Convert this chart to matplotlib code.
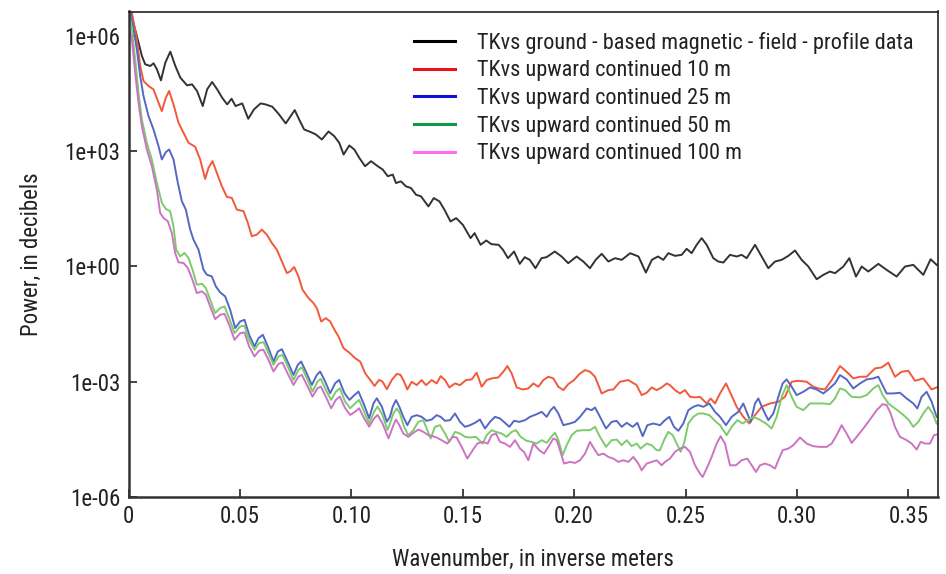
import numpy as np
import matplotlib
matplotlib.use("Agg")
import matplotlib.pyplot as plt
from matplotlib import font_manager
from matplotlib.lines import Line2D

# ---------------- data (x in inverse meters, power given as log10 exponent) -------------
black_x = [0.0, 0.00075, 0.00375, 0.0060, 0.0075, 0.00976, 0.01126, 0.01276, 0.01456, 0.01652, 0.01877,
           0.02102, 0.02327, 0.02628, 0.02853, 0.03078, 0.03333, 0.03529, 0.03754, 0.03979, 0.04204,
           0.04429, 0.04625, 0.04805, 0.05105, 0.05375, 0.05631, 0.05931, 0.06156, 0.06456, 0.06757,
           0.07057, 0.07282, 0.07462, 0.07658, 0.07883, 0.08183, 0.08408, 0.08679, 0.08979, 0.09234,
           0.09459, 0.09655, 0.0991, 0.10135, 0.1036, 0.10616, 0.10886, 0.11186, 0.11411, 0.11637,
           0.11862, 0.12004, 0.12229, 0.12455, 0.1268, 0.12905, 0.1313, 0.13461, 0.13701, 0.13956,
           0.14181, 0.14452, 0.14707, 0.15007, 0.15353, 0.15533, 0.15803, 0.16058, 0.16284, 0.16614,
           0.16809, 0.17034, 0.17305, 0.1756, 0.17785, 0.1801, 0.18265, 0.18536, 0.18761, 0.19136,
           0.19437, 0.19737, 0.20112, 0.20413, 0.20713, 0.20968, 0.21239, 0.21539, 0.21839, 0.2214,
           0.22515, 0.2289, 0.23221, 0.23491, 0.23761, 0.24005, 0.24229, 0.24528, 0.24827, 0.25052,
           0.25276, 0.25501, 0.25725, 0.2595, 0.26249, 0.26473, 0.26698, 0.26997, 0.27296, 0.27521,
           0.27745, 0.2812, 0.28418, 0.28717, 0.29017, 0.29316, 0.29615, 0.29914, 0.30214, 0.30513,
           0.30887, 0.31186, 0.31485, 0.3171, 0.32084, 0.32353, 0.32652, 0.32907, 0.33206, 0.33655,
           0.34029, 0.34477, 0.34851, 0.35225, 0.35674, 0.36003, 0.36272]
black_log10 = [6.9, 6.65, 6.0, 5.478, 5.261, 5.217, 5.287, 5.130, 4.843, 5.304, 5.591,
               5.217, 4.913, 4.713, 4.739, 4.565, 4.174, 4.609, 4.800, 4.609, 4.391,
               4.217, 4.365, 4.174, 4.243, 3.843, 4.087, 4.243, 4.217, 4.157, 3.957,
               3.722, 3.913, 4.070, 3.826, 3.565, 3.496, 3.435, 3.304, 3.513, 3.391,
               3.217, 2.913, 3.148, 3.043, 2.826, 2.609, 2.739, 2.609, 2.522, 2.348,
               2.391, 2.171, 2.214, 2.084, 2.040, 1.867, 1.823, 1.562, 1.780, 1.693,
               1.476, 1.171, 1.258, 1.084, 0.737, 0.867, 0.563, 0.676, 0.580, 0.563,
               0.432, 0.215, 0.389, 0.067, 0.241, 0.172, -0.046, 0.215, 0.241, 0.389,
               0.259, 0.085, 0.259, 0.128, -0.046, 0.172, 0.328, 0.128, 0.215, 0.172,
               0.345, 0.259, -0.159, 0.172, 0.259, 0.172, 0.346, 0.276, 0.302, 0.459,
               0.346, 0.563, 0.737, 0.563, 0.215, 0.128, 0.102, 0.302, 0.259, 0.302,
               0.215, 0.563, 0.259, -0.046, 0.128, 0.172, 0.276, 0.415, 0.172, -0.002,
               -0.332, -0.219, -0.132, -0.176, -0.002, 0.215, -0.263, -0.002, -0.132, 0.067,
               -0.089, -0.263, -0.002, 0.041, -0.219, 0.189, 0.041]

red_x = [0.0, 0.0015, 0.00374, 0.00524, 0.00673, 0.00898, 0.01122, 0.01347, 0.01496, 0.01676, 0.01825,
         0.0202, 0.02244, 0.02469, 0.02693, 0.02992, 0.03217, 0.03441, 0.03591, 0.0377, 0.03965,
         0.04189, 0.04414, 0.04638, 0.04862, 0.05162, 0.05356, 0.05536, 0.0576, 0.05984, 0.06209,
         0.06433, 0.06658, 0.06912, 0.07107, 0.07256, 0.07436, 0.0763, 0.0781, 0.08079, 0.08303,
         0.08453, 0.08648, 0.08857, 0.09051, 0.09246, 0.09426, 0.0965, 0.09904, 0.10174, 0.10398,
         0.10622, 0.10847, 0.11041, 0.11251, 0.114, 0.11595, 0.11819, 0.12044, 0.12208, 0.12335,
         0.12515, 0.1271, 0.12934, 0.13158, 0.13353, 0.13607, 0.13832, 0.14011, 0.14206, 0.144,
         0.14654, 0.14879, 0.15148, 0.15403, 0.15627, 0.15851, 0.16076, 0.163, 0.16599, 0.16824,
         0.17003, 0.17198, 0.17422, 0.17692, 0.17946, 0.1817, 0.18395, 0.18619, 0.18844, 0.19068,
         0.19293, 0.19517, 0.19741, 0.19996, 0.20235, 0.2049, 0.20714, 0.20938, 0.21237, 0.21537,
         0.21761, 0.2206, 0.22434, 0.22808, 0.23032, 0.23257, 0.23481, 0.23706, 0.2393, 0.24155,
         0.24304, 0.24528, 0.24753, 0.24977, 0.25202, 0.25426, 0.2565, 0.25949, 0.26129, 0.26324,
         0.26548, 0.26817, 0.27027, 0.27296, 0.27595, 0.27865, 0.28119, 0.28418, 0.28792, 0.29166,
         0.29466, 0.29765, 0.30064, 0.30438, 0.30737, 0.30962, 0.31261, 0.3156, 0.31934, 0.32233,
         0.32532, 0.32832, 0.33131, 0.33505, 0.33804, 0.34103, 0.34402, 0.34702, 0.35001, 0.353,
         0.35674, 0.36048, 0.36347]
red_log10 = [6.9, 6.608, 5.913, 5.218, 4.827, 4.696, 4.609, 4.262, 4.044, 4.392, 4.566,
             4.218, 3.740, 3.479, 3.219, 3.114, 2.784, 2.280, 2.567, 2.741, 2.436,
             2.089, 1.811, 1.784, 1.480, 1.437, 1.133, 0.785, 0.828, 0.959, 0.828,
             0.611, 0.437, 0.089, -0.172, -0.128, -0.015, -0.259, -0.606, -0.823, -0.954,
             -1.085, -1.432, -1.345, -1.432, -1.649, -1.823, -2.127, -2.240, -2.388, -2.475,
             -2.779, -2.953, -3.109, -2.953, -2.996, -3.196, -2.953, -2.796, -2.822, -2.957,
             -3.201, -3.001, -3.088, -2.957, -3.088, -2.957, -3.044, -2.853, -2.957, -3.149,
             -3.044, -3.088, -2.957, -2.940, -2.766, -3.131, -2.957, -2.914, -2.888, -2.740,
             -2.592, -2.783, -3.149, -3.201, -3.175, -3.044, -3.131, -2.957, -2.870, -2.914,
             -3.131, -3.218, -3.062, -2.957, -2.801, -2.697, -2.740, -2.870, -3.305, -3.218,
             -3.201, -3.001, -2.957, -3.088, -3.348, -3.288, -3.149, -3.218, -3.149, -3.044,
             -3.088, -3.218, -3.305, -3.218, -3.392, -3.409, -3.392, -3.566, -3.436, -3.566,
             -3.305, -3.044, -3.305, -3.653, -3.913, -4.087, -3.870, -3.653, -3.566, -3.522,
             -3.392, -3.001, -2.975, -3.001, -3.131, -3.175, -3.201, -2.957, -2.592, -2.740,
             -2.914, -2.870, -2.870, -2.653, -2.627, -2.505, -2.870, -2.740, -2.714, -2.975,
             -2.914, -3.201, -3.131]

blue_x = [0.0, 0.00224, 0.00374, 0.00524, 0.00673, 0.00898, 0.01122, 0.01347, 0.01496, 0.01676, 0.01825,
          0.0202, 0.02214, 0.02394, 0.02573, 0.02768, 0.02917, 0.03142, 0.03366, 0.03516, 0.0374,
          0.0392, 0.04114, 0.04339, 0.04563, 0.04788, 0.05012, 0.05206, 0.05416, 0.05655, 0.05835,
          0.06029, 0.06254, 0.06508, 0.06702, 0.06882, 0.07107, 0.07406, 0.076, 0.0775, 0.07959,
          0.08229, 0.08453, 0.08603, 0.08827, 0.09051, 0.09276, 0.09455, 0.09695, 0.09919, 0.10144,
          0.10323, 0.10548, 0.10802, 0.10996, 0.11146, 0.1137, 0.11595, 0.11737, 0.11857, 0.12006,
          0.12156, 0.12335, 0.12515, 0.1271, 0.12934, 0.13158, 0.13383, 0.13607, 0.13832, 0.14011,
          0.14206, 0.1443, 0.14654, 0.14879, 0.15103, 0.15328, 0.15552, 0.15776, 0.16001, 0.16225,
          0.1645, 0.16674, 0.16899, 0.17093, 0.17303, 0.17542, 0.17796, 0.18021, 0.1832, 0.18544,
          0.18769, 0.18948, 0.19098, 0.19293, 0.19517, 0.19816, 0.2004, 0.20265, 0.20564, 0.20788,
          0.20938, 0.21162, 0.21432, 0.21686, 0.21911, 0.22135, 0.2236, 0.22629, 0.22838, 0.23078,
          0.23287, 0.23556, 0.23855, 0.2408, 0.24274, 0.24483, 0.24678, 0.24902, 0.25127, 0.25351,
          0.25576, 0.258, 0.26069, 0.26324, 0.26548, 0.26817, 0.27072, 0.27371, 0.27595, 0.27775,
          0.27924, 0.2812, 0.28269, 0.28493, 0.28717, 0.28942, 0.29166, 0.29361, 0.2954, 0.29765,
          0.29989, 0.30288, 0.30588, 0.30887, 0.31186, 0.3141, 0.31709, 0.31934, 0.32233, 0.32532,
          0.32832, 0.33131, 0.3343, 0.33655, 0.33804, 0.34029, 0.34328, 0.34627, 0.34926, 0.35225,
          0.35405, 0.35599, 0.35824, 0.36048, 0.36272]
blue_log10 = [6.9, 6.174, 5.652, 4.957, 4.435, 3.914, 3.566, 3.132, 2.784, 2.975, 3.045,
              2.784, 2.176, 1.698, 1.480, 0.959, 0.698, 0.437, -0.084, -0.215, -0.258,
              -0.519, -0.675, -0.780, -1.127, -1.605, -1.432, -1.388, -1.779, -2.083, -1.866,
              -1.779, -2.083, -2.475, -2.214, -2.153, -2.431, -2.822, -2.561, -2.475, -2.735,
              -3.083, -2.822, -2.735, -2.996, -3.300, -3.040, -2.953, -3.300, -3.474, -3.344,
              -3.257, -3.561, -3.952, -3.561, -3.431, -3.648, -4.039, -3.914, -3.653, -3.479,
              -3.653, -3.914, -4.131, -3.914, -3.870, -3.914, -4.018, -3.983, -3.870, -3.914,
              -4.018, -4.000, -3.827, -4.044, -4.174, -4.131, -4.070, -3.983, -4.218, -4.044,
              -3.914, -3.957, -4.070, -4.174, -4.018, -4.044, -4.000, -3.914, -3.844, -3.783,
              -3.914, -3.740, -3.653, -3.827, -4.131, -4.087, -4.044, -3.914, -3.696, -3.740,
              -3.670, -3.914, -4.218, -4.044, -4.018, -4.174, -4.070, -4.174, -4.070, -4.418,
              -4.131, -4.087, -4.131, -4.000, -3.914, -4.174, -4.278, -4.087, -3.740, -3.653,
              -3.609, -3.653, -3.566, -3.783, -3.914, -4.131, -3.914, -3.783, -3.566, -3.827,
              -4.044, -3.566, -3.435, -3.740, -4.000, -3.827, -3.392, -3.044, -2.940, -3.131,
              -3.348, -3.262, -3.149, -3.201, -3.305, -3.201, -3.044, -2.827, -2.940, -3.175,
              -3.044, -2.940, -2.914, -2.870, -3.044, -3.305, -3.305, -3.288, -3.435, -3.566,
              -3.696, -3.392, -3.262, -3.522, -3.914]

green_x = [0.0, 0.0015, 0.00299, 0.00449, 0.00598, 0.00823, 0.01047, 0.01272, 0.01496, 0.01676, 0.0187,
           0.0202, 0.02139, 0.02319, 0.02513, 0.02693, 0.02873, 0.03067, 0.03291, 0.03471, 0.03665,
           0.0389, 0.04114, 0.04309, 0.04518, 0.04758, 0.05012, 0.05206, 0.05416, 0.05655, 0.05865,
           0.06059, 0.06284, 0.06508, 0.06732, 0.06912, 0.07151, 0.07406, 0.0763, 0.0778, 0.08004,
           0.08259, 0.08483, 0.08633, 0.08857, 0.09096, 0.09306, 0.09485, 0.09725, 0.09949, 0.10174,
           0.10353, 0.10577, 0.10802, 0.11026, 0.11176, 0.114, 0.11625, 0.11737, 0.11887, 0.12036,
           0.12186, 0.12365, 0.1256, 0.12784, 0.13009, 0.13233, 0.13413, 0.13562, 0.13757, 0.13981,
           0.14206, 0.144, 0.14654, 0.14879, 0.15103, 0.15328, 0.15597, 0.15896, 0.16076, 0.163,
           0.16495, 0.16749, 0.16973, 0.17198, 0.17392, 0.17602, 0.17871, 0.18095, 0.1832, 0.18544,
           0.18769, 0.18993, 0.19143, 0.19293, 0.19487, 0.19667, 0.19891, 0.20115, 0.20414, 0.20714,
           0.20938, 0.21162, 0.21432, 0.21686, 0.21911, 0.22135, 0.2236, 0.22584, 0.22808, 0.22988,
           0.23257, 0.23481, 0.23706, 0.23855, 0.24035, 0.24229, 0.24424, 0.24603, 0.24783, 0.24932,
           0.25127, 0.25351, 0.25576, 0.258, 0.26069, 0.26324, 0.26548, 0.26847, 0.27072, 0.27326,
           0.27565, 0.27775, 0.28044, 0.28313, 0.28613, 0.28867, 0.29091, 0.29316, 0.2954, 0.29765,
           0.29989, 0.30288, 0.30588, 0.30887, 0.31186, 0.31485, 0.3171, 0.31934, 0.32158, 0.32457,
           0.32832, 0.33131, 0.3343, 0.33655, 0.3385, 0.34103, 0.34402, 0.34702, 0.35001, 0.35225,
           0.3545, 0.35674, 0.35899, 0.36093, 0.36272]
green_log10 = [6.7, 6.174, 5.392, 4.522, 3.827, 3.219, 2.784, 2.176, 1.654, 1.498, 1.437,
               1.046, 0.437, 0.263, 0.350, 0.220, -0.084, -0.475, -0.449, -0.562, -0.866,
               -1.214, -1.084, -1.040, -1.345, -1.736, -1.562, -1.545, -1.910, -2.170, -1.996,
               -1.970, -2.257, -2.561, -2.344, -2.301, -2.605, -2.953, -2.692, -2.622, -2.909,
               -3.257, -2.996, -2.926, -3.213, -3.474, -3.257, -3.170, -3.518, -3.692, -3.561,
               -3.474, -3.778, -4.083, -3.778, -3.648, -3.865, -4.257, -4.087, -3.827, -3.696,
               -3.827, -4.174, -4.391, -4.261, -4.044, -4.000, -4.261, -4.478, -4.174, -4.131,
               -4.348, -4.565, -4.305, -4.348, -4.435, -4.452, -4.435, -4.609, -4.391, -4.261,
               -4.305, -4.348, -4.435, -4.305, -4.261, -4.435, -4.539, -4.565, -4.609, -4.522,
               -4.592, -4.418, -4.331, -4.522, -4.913, -4.652, -4.391, -4.278, -4.261, -4.261,
               -4.174, -4.435, -4.696, -4.522, -4.505, -4.652, -4.522, -4.678, -4.609, -4.739,
               -4.609, -4.652, -4.783, -4.783, -4.522, -4.305, -4.391, -4.609, -4.826, -4.609,
               -4.087, -3.914, -3.827, -3.827, -3.870, -4.018, -4.131, -4.391, -4.174, -4.000,
               -4.087, -4.000, -3.914, -3.983, -4.087, -4.218, -3.914, -3.392, -3.088, -3.392,
               -3.653, -3.740, -3.566, -3.566, -3.566, -3.583, -3.435, -3.175, -3.218, -3.392,
               -3.409, -3.348, -3.175, -3.088, -3.348, -3.566, -3.696, -3.827, -3.983, -4.174,
               -4.044, -3.827, -3.653, -3.827, -4.087]

magenta_x = [0.0, 0.0015, 0.00299, 0.00449, 0.00598, 0.00823, 0.01047, 0.01272, 0.01421, 0.01571, 0.01765,
             0.01945, 0.02095, 0.02244, 0.02469, 0.02663, 0.02843, 0.03067, 0.03291, 0.03471, 0.03665,
             0.0389, 0.04114, 0.04309, 0.04518, 0.04758, 0.05012, 0.05206, 0.05416, 0.05655, 0.05865,
             0.06059, 0.06284, 0.06508, 0.06732, 0.06912, 0.07151, 0.07406, 0.0763, 0.0778, 0.08004,
             0.08259, 0.08483, 0.08633, 0.08857, 0.09096, 0.09306, 0.09485, 0.09725, 0.09949, 0.10174,
             0.10353, 0.10577, 0.10802, 0.11026, 0.11176, 0.114, 0.1167, 0.11894, 0.12006, 0.12156,
             0.12335, 0.1256, 0.12784, 0.13009, 0.13233, 0.13458, 0.13652, 0.13832, 0.14056, 0.1431,
             0.1455, 0.14729, 0.14954, 0.15208, 0.15447, 0.15657, 0.15896, 0.16121, 0.163, 0.16495,
             0.16674, 0.16899, 0.17123, 0.17347, 0.17572, 0.17751, 0.17946, 0.1817, 0.18439, 0.18649,
             0.18844, 0.19068, 0.19218, 0.19367, 0.19547, 0.19816, 0.2004, 0.20265, 0.2049, 0.20714,
             0.20893, 0.21088, 0.21312, 0.21537, 0.21761, 0.21986, 0.2221, 0.22434, 0.22659, 0.22883,
             0.23032, 0.23257, 0.23481, 0.23706, 0.2393, 0.2408, 0.24304, 0.24528, 0.24753, 0.24977,
             0.25202, 0.25426, 0.2565, 0.2577, 0.25949, 0.26174, 0.26398, 0.26578, 0.26772, 0.26997,
             0.27266, 0.27521, 0.27775, 0.2797, 0.28164, 0.28344, 0.28568, 0.28792, 0.29017, 0.29166,
             0.29361, 0.29615, 0.2984, 0.30139, 0.30438, 0.30737, 0.31036, 0.31336, 0.3156, 0.31785,
             0.32009, 0.32233, 0.32458, 0.32682, 0.32981, 0.3328, 0.3358, 0.33849, 0.34029, 0.34208,
             0.34402, 0.34627, 0.34926, 0.3515, 0.35375, 0.35554, 0.35749, 0.35974, 0.36153, 0.36347]
magenta_log10 = [6.261, 5.913, 5.044, 4.262, 3.653, 3.045, 2.610, 2.002, 1.393, 1.263, 1.176,
                 0.872, 0.350, 0.107, 0.090, -0.041, -0.302, -0.693, -0.649, -0.736, -1.040,
                 -1.371, -1.258, -1.232, -1.518, -1.910, -1.736, -1.718, -2.083, -2.344, -2.188,
                 -2.170, -2.431, -2.735, -2.535, -2.501, -2.796, -3.083, -2.866, -2.822, -3.083,
                 -3.387, -3.170, -3.126, -3.387, -3.691, -3.474, -3.387, -3.691, -3.865, -3.778,
                 -3.691, -3.952, -4.169, -3.952, -3.865, -4.083, -4.474, -4.126, -3.983, -4.131,
                 -4.348, -4.435, -4.331, -4.244, -4.305, -4.391, -4.418, -4.452, -4.522, -4.609,
                 -4.435, -4.452, -4.696, -5.000, -4.783, -4.609, -4.565, -4.609, -4.391, -4.348,
                 -4.565, -4.609, -4.696, -4.522, -4.739, -4.826, -5.043, -4.609, -4.783, -4.870,
                 -4.696, -4.478, -4.522, -4.783, -5.130, -5.087, -5.113, -5.043, -4.870, -4.565,
                 -4.739, -4.913, -4.870, -4.956, -5.000, -5.087, -5.043, -5.087, -4.956, -5.130,
                 -5.304, -5.130, -5.087, -5.043, -5.174, -5.087, -5.000, -4.826, -4.739, -4.696,
                 -4.826, -5.174, -5.391, -5.478, -5.261, -4.957, -4.609, -4.418, -4.609, -5.174,
                 -5.174, -5.043, -5.000, -5.174, -5.348, -5.174, -5.130, -5.174, -5.261, -5.043,
                 -4.783, -4.739, -4.652, -4.452, -4.609, -4.678, -4.696, -4.696, -4.609, -4.391,
                 -4.131, -4.348, -4.592, -4.435, -4.218, -3.983, -3.740, -3.583, -3.609, -3.827,
                 -4.174, -4.435, -4.522, -4.609, -4.765, -4.565, -4.609, -4.609, -4.391, -4.365]

labels = ["TKvs ground - based magnetic - field - profile data",
          "TKvs upward continued 10 m",
          "TKvs upward continued 25 m",
          "TKvs upward continued 50 m",
          "TKvs upward continued 100 m"]
x_ticks = [0, 0.05, 0.10, 0.15, 0.20, 0.25, 0.30, 0.35]
x_tick_labels = ["0", "0.05", "0.10", "0.15", "0.20", "0.25", "0.30", "0.35"]
y_ticks = [1e6, 1e3, 1e0, 1e-3, 1e-6]
y_tick_labels = ["1e+06", "1e+03", "1e+00", "1e-03", "1e-06"]

# ---------------- font ----------------
avail = {f.name for f in font_manager.fontManager.ttflist}
family = "DejaVu Sans"
for cand in ["Roboto Condensed", "Liberation Sans Narrow", "Open Sans Condensed",
             "Noto Sans Condensed", "DejaVu Sans Condensed", "Arial Narrow"]:
    if cand in avail:
        family = cand
        break
plt.rcParams["font.family"] = [family, "DejaVu Sans"]

# ---------------- figure ----------------
fig = plt.figure(figsize=(9.46, 5.74), dpi=100)
ax = fig.add_axes([128.5 / 946, 1 - 497 / 574, (938 - 128.5) / 946, (497 - 11.5) / 574])

curve_colors = ["#333333", "#f2593a", "#5468c4", "#7ccb6c", "#cc74c4"]
legend_colors = ["#000000", "#ee1111", "#1111dd", "#119944", "#ff6ef2"]
series = [(black_x, black_log10), (red_x, red_log10), (blue_x, blue_log10),
          (green_x, green_log10), (magenta_x, magenta_log10)]
for (xs, ls), c in zip(series, curve_colors):
    ax.plot(xs, 10.0 ** np.asarray(ls), color=c, lw=1.4, solid_joinstyle="round")

ax.set_yscale("log")
ax.set_xlim(0, (938 - 128.5) / 2228)
ax.set_ylim(1e-6, 10 ** 6.635)
ax.set_xticks(x_ticks)
ax.set_xticklabels(x_tick_labels)
ax.set_yticks(y_ticks)
ax.set_yticklabels(y_tick_labels)
ax.minorticks_off()
ax.tick_params(direction="in", length=6, width=1.2, labelsize=16.5, colors="#222222", pad=6)

for s in ["left", "bottom"]:
    ax.spines[s].set_linewidth(1.8)
    ax.spines[s].set_color("#333333")
for s in ["top", "right"]:
    ax.spines[s].set_linewidth(1.2)
    ax.spines[s].set_color("#222222")

ax.set_xlabel("Wavenumber, in inverse meters", fontsize=16.5, color="#222222", labelpad=14)
ax.set_ylabel("Power, in decibels", fontsize=16.5, color="#222222", labelpad=15)

handles = [Line2D([], [], color=c, lw=2.2) for c in legend_colors]
leg = ax.legend(handles, labels, loc="upper right", bbox_to_anchor=(0.986, 0.986),
                frameon=False, fontsize=16, handlelength=1.85, handletextpad=1.0,
                labelspacing=0.3, borderaxespad=0.2)
for t in leg.get_texts():
    t.set_color("#222222")

fig.savefig("out.png", dpi=100)
